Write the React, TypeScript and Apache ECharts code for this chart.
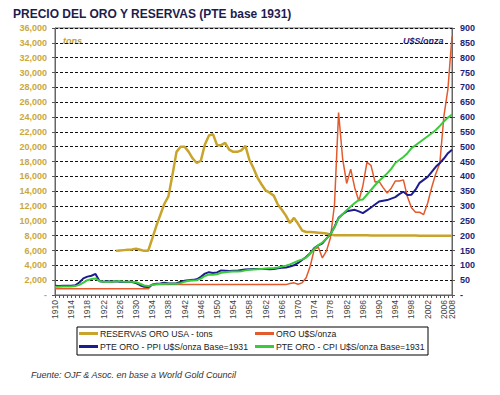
import React, { useEffect, useRef } from "react";
import * as echarts from "echarts";

const years: string[] = [];
for (let y = 1910; y <= 2008; y++) years.push(String(y));

const tonsTicks = [0, 36000, 2000];
const priceTicks = [0, 900, 50];

// RESERVAS ORO USA - tons (1910..2008), null before 1925
const reservas: (number | null)[] = [
  null, null, null, null, null, null, null, null, null, null,
  null, null, null, null, null,
  5950, 6000, 6050, 6100, 6150, 6250, 6100, 5950, 5950, 7600,
  9300, 10800, 12300, 13300, 16200, 19300, 20000, 20000, 19300, 18400,
  17800, 18100, 20300, 21500, 21700, 20200, 20200, 20500, 19600, 19300,
  19300, 19500, 20100, 18200, 17100, 15800, 14900, 14100, 13800, 13400,
  12200, 11500, 10700, 9700, 10400, 9600, 8700, 8500, 8500, 8450,
  8400, 8350, 8300, 8150, 8050, 8050, 8050, 8050, 8050, 8050,
  8040, 8040, 8040, 8030, 8030, 8030, 8030, 8030, 8020, 8020,
  8020, 8010, 8010, 8010, 8010, 8000, 8000, 8000, 8000, 8000,
  8000, 8000, 8000, 8000,
];

// ORO U$S/onza
const oro: number[] = [
  20.67, 20.67, 20.67, 20.67, 20.67, 20.67, 20.67, 20.67, 20.67, 20.67,
  20.67, 20.67, 20.67, 20.67, 20.67, 20.67, 20.67, 20.67, 20.67, 20.67,
  20.67, 20.67, 20.67, 20.67, 35, 35, 35, 35, 35, 35,
  35, 35, 35, 35, 35, 35, 35, 35, 35, 35,
  35, 35, 35, 35, 35, 35, 35, 35, 35, 35,
  35, 35, 35, 35, 35, 35, 35, 35, 39, 41,
  36, 41, 58, 97, 154, 161, 125, 148, 193, 306,
  615, 460, 376, 424, 361, 317, 368, 447, 437, 381,
  383, 362, 344, 360, 384, 384, 388, 331, 294, 279,
  279, 271, 310, 363, 409, 444, 603, 695, 872,
];

// PTE ORO - PPI U$S/onza Base=1931
const ptePPI: number[] = [
  31, 30, 31, 31, 31, 33, 42, 56, 62, 65,
  71, 46, 45, 46, 45, 46, 45, 44, 45, 44,
  40, 33, 28, 27, 35, 38, 39, 41, 39, 39,
  40, 44, 48, 50, 51, 53, 61, 72, 77, 74,
  76, 83, 82, 81, 82, 82, 84, 86, 87, 88,
  88, 88, 88, 87, 88, 90, 92, 93, 96, 100,
  108, 118, 128, 141, 158, 167, 174, 190, 205, 230,
  260, 272, 282, 285, 287, 282, 276, 285, 295, 305,
  315, 318, 320, 325, 330, 340, 348, 337, 338, 355,
  378, 388, 398, 415, 432, 445, 460, 478, 490,
];

// PTE ORO - CPI U$S/onza Base=1931
const pteCPI: number[] = [
  28, 28, 29, 29, 29, 30, 34, 42, 50, 54,
  56, 47, 45, 45, 45, 46, 46, 45, 45, 45,
  43, 38, 32, 30, 34, 36, 37, 38, 38, 38,
  38, 40, 45, 48, 49, 50, 55, 64, 69, 68,
  70, 75, 77, 78, 79, 79, 80, 83, 85, 86,
  87, 88, 89, 90, 91, 93, 96, 99, 103, 109,
  115, 120, 126, 140, 155, 168, 177, 190, 205, 228,
  258, 272, 286, 298, 310, 320, 322, 338, 354, 370,
  385, 397, 410, 425, 445, 455, 465, 478, 495, 505,
  515, 525, 535, 545, 556, 570, 585, 598, 608,
];

const seriesNames = [
  "RESERVAS ORO USA - tons",
  "ORO U$S/onza",
  "PTE ORO - PPI U$S/onza Base=1931",
  "PTE ORO - CPI U$S/onza Base=1931",
];
const seriesColors = ["#c9a42c", "#e35a2c", "#1c1c8e", "#3acb3a"];

export default function App() {
  const ref = useRef<HTMLDivElement>(null);
  useEffect(() => {
    if (!ref.current) return;
    const chart = echarts.init(ref.current, null, { renderer: "svg" });
    const font = "Arial, 'Liberation Sans', sans-serif";
    const legendText = { fontSize: 8.7, color: "#222", fontFamily: font, padding: [0, 0, 0, -3] };
    const xLabel = {
      rotate: 90,
      fontSize: 8.5,
      color: "#444",
      fontFamily: font,
      margin: 5,
    };
    chart.setOption({
      animation: false,
      backgroundColor: "#ffffff",
      title: {
        text: "PRECIO DEL ORO Y RESERVAS (PTE base 1931)",
        left: 8,
        top: 3,
        textStyle: { fontSize: 12, fontWeight: "bold", color: "#1c1c50", fontFamily: font },
      },
      grid: {
        left: 55,
        right: 48,
        top: 28,
        bottom: 100,
        show: true,
        borderColor: "#666",
        borderWidth: 1,
        backgroundColor: "transparent",
      },
      legend: [
        {
          data: [seriesNames[0], seriesNames[2]],
          orient: "vertical",
          left: 79,
          top: 329,
          padding: 0,
          itemGap: 4,
          itemWidth: 19,
          itemHeight: 3,
          icon: "rect",
          textStyle: legendText,
        },
        {
          data: [seriesNames[1], seriesNames[3]],
          orient: "vertical",
          left: 255,
          top: 329,
          padding: 0,
          itemGap: 4,
          itemWidth: 19,
          itemHeight: 3,
          icon: "rect",
          textStyle: legendText,
        },
      ],
      xAxis: [
        {
          type: "category",
          data: years,
          boundaryGap: false,
          position: "bottom",
          axisLine: { show: true, lineStyle: { color: "#666", width: 1 } },
          axisTick: { show: true, interval: 0, length: 3, lineStyle: { color: "#555" } },
          axisLabel: { ...xLabel, interval: (i: number) => i % 4 === 0 },
          splitLine: { show: false },
        },
        {
          type: "category",
          data: years,
          boundaryGap: false,
          position: "bottom",
          offset: 0,
          axisLine: { show: false, onZero: false },
          axisTick: { show: false },
          axisLabel: {
            ...xLabel,
            interval: (i: number) => i === years.length - 1,
            showMinLabel: false,
            showMaxLabel: true,
          },
          splitLine: { show: false },
        },
      ],
      yAxis: [
        {
          type: "value",
          min: tonsTicks[0],
          max: tonsTicks[1],
          interval: tonsTicks[2],
          axisLine: { show: true, lineStyle: { color: "#666" } },
          axisTick: { show: true, length: 3, lineStyle: { color: "#555" } },
          axisLabel: {
            fontSize: 9,
            fontWeight: "bold",
            color: "#c9a83c",
            fontFamily: font,
            margin: 8,
            formatter: (v: number) => (v === 0 ? "-" : v.toLocaleString("en-US")),
          },
          splitLine: { show: true, lineStyle: { color: "#111", type: [3, 2], width: 1 } },
        },
        {
          type: "value",
          min: priceTicks[0],
          max: priceTicks[1],
          interval: priceTicks[2],
          position: "right",
          axisLine: { show: true, lineStyle: { color: "#666" } },
          axisTick: { show: true, length: 3, lineStyle: { color: "#555" } },
          axisLabel: {
            fontSize: 9,
            fontWeight: "bold",
            color: "#1e1e78",
            fontFamily: font,
            margin: 8,
            formatter: (v: number) => (v === 0 ? "-" : String(v)),
          },
          splitLine: { show: false },
        },
      ],
      series: [
        {
          name: seriesNames[0],
          type: "line",
          yAxisIndex: 0,
          data: reservas,
          showSymbol: false,
          symbol: "none",
          lineStyle: { width: 2.5, color: seriesColors[0] },
          itemStyle: { color: seriesColors[0] },
        },
        {
          name: seriesNames[1],
          type: "line",
          yAxisIndex: 1,
          data: oro,
          showSymbol: false,
          symbol: "none",
          lineStyle: { width: 1.5, color: seriesColors[1] },
          itemStyle: { color: seriesColors[1] },
        },
        {
          name: seriesNames[2],
          type: "line",
          yAxisIndex: 1,
          data: ptePPI,
          showSymbol: false,
          symbol: "none",
          lineStyle: { width: 2, color: seriesColors[2] },
          itemStyle: { color: seriesColors[2] },
        },
        {
          name: seriesNames[3],
          type: "line",
          yAxisIndex: 1,
          data: pteCPI,
          showSymbol: false,
          symbol: "none",
          lineStyle: { width: 2, color: seriesColors[3] },
          itemStyle: { color: seriesColors[3] },
        },
      ],
      graphic: [
        {
          type: "rect",
          shape: { x: 77, y: 327, width: 351, height: 28 },
          style: { fill: "none", stroke: "#000", lineWidth: 1 },
          silent: true,
        },
        {
          type: "text",
          x: 63,
          y: 36,
          style: {
            text: "tons",
            fontSize: 9,
            fontStyle: "italic",
            fontWeight: "bold",
            fill: "#b8a040",
            fontFamily: font,
          },
        },
        {
          type: "text",
          x: 403,
          y: 36,
          style: {
            text: "U$S/onza",
            fontSize: 9,
            fontStyle: "italic",
            fontWeight: "bold",
            fill: "#1e1e78",
            fontFamily: font,
          },
        },
        {
          type: "text",
          x: 31,
          y: 370,
          style: {
            text: "Fuente: OJF & Asoc. en base a World Gold Council",
            fontSize: 9,
            fontStyle: "italic",
            fill: "#333",
            fontFamily: font,
          },
        },
      ],
    });
    return () => chart.dispose();
  }, []);
  return (
    <div
      ref={ref}
      style={{ position: "fixed", left: 0, top: 0, width: 500, height: 395, background: "#fff" }}
    />
  );
}
